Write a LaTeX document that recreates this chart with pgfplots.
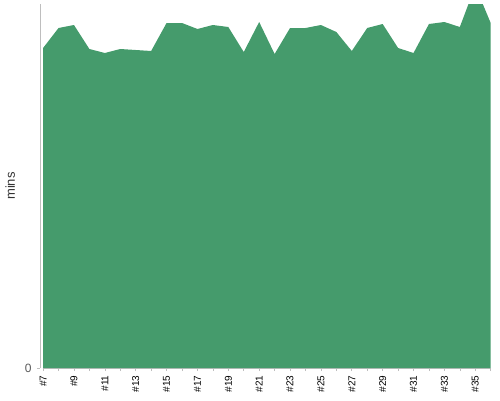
\documentclass[border=0pt]{standalone}
\usepackage{pgfplots}
\pgfplotsset{compat=1.18}
\usepackage{fontspec}
\setmainfont{Liberation Sans}
\definecolor{areagreen}{RGB}{69,155,108}
\definecolor{axisgray}{RGB}{190,190,190}
\definecolor{labelgray}{RGB}{51,51,51}

\begin{document}
\begin{tikzpicture}[x=1pt,y=1pt]
\useasboundingbox (-40,-32) rectangle (460,368);
\begin{axis}[
  at={(0,0)}, anchor=south west,
  scale only axis,
  width=450.7pt, height=364pt,
  xmin=6.8, xmax=36,
  ymin=0, ymax=364,
  axis lines=left,
  axis line style={axisgray, line width=0.8pt, -},
  x axis line style={shorten <=3pt},
  ytick={0},
  yticklabel style={font=\fontsize{12}{14}\selectfont, text=black!65, xshift=-2pt},
  xtick={7,9,...,35},
  xticklabels={\#7,\#9,\#11,\#13,\#15,\#17,\#19,\#21,\#23,\#25,\#27,\#29,\#31,\#33,\#35},
  minor xtick={8,10,...,36},
  xticklabel style={rotate=90, anchor=east, font=\fontsize{10}{12}\selectfont, text=black},
  xticklabel shift=1pt,
  major tick length=3pt, minor tick length=3pt,
  tick style={axisgray, line width=0.6pt},
  tick align=outside,
  ylabel={mins},
  ylabel shift=3pt,
  ylabel style={font=\fontsize{13}{15}\selectfont, text=labelgray},
  /pgf/number format/assume math mode=true,
  clip=true,
]
\addplot [draw=none, fill=areagreen] coordinates {
  (7,320) (8,340) (9,343) (10,319) (11,315) (12,319) (13,318) (14,317)
  (15,345) (16,345) (17,339) (18,343) (19,341) (20,316) (21,346) (22,314)
  (23,340) (24,340) (25,343) (26,336) (27,317) (28,340) (29,344) (30,320)
  (31,315) (32,344) (33,346) (34,341) (35,382) (36,345)
} \closedcycle;
\end{axis}
\end{tikzpicture}
\end{document}
